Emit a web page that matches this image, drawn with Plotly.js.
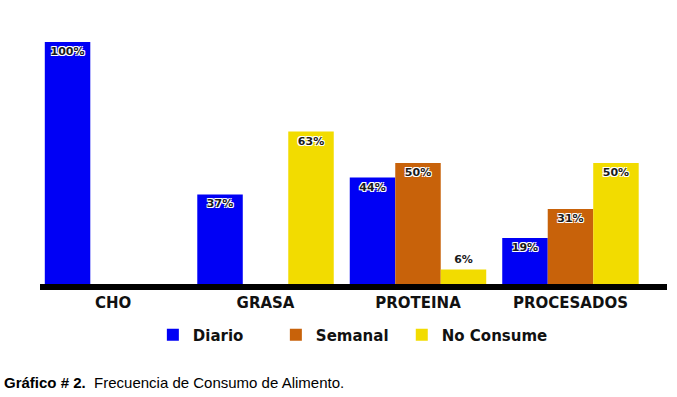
<!DOCTYPE html>
<html><head><meta charset="utf-8">
<script src="https://cdn.plot.ly/plotly-3.0.1.min.js"></script>
<style>html,body{margin:0;padding:0;background:#fff}#chart{width:677px;height:397px}</style>
</head><body><div id="chart"></div>
<script>
const categories = ["CHO", "GRASA", "PROTEINA", "PROCESADOS"];
const diario = [100, 37, 44, 19];
const semanal = [null, null, 50, 31];
const noConsume = [null, 63, 6, 50];
const seriesNames = ["Diario", "Semanal", "No Consume"];
const colors = ["#0000f5", "#c8620a", "#f2dc00"];

const shadow = "1px 1px 0 #fff, -1px -1px 0 #fff, 1px -1px 0 #fff, -1px 1px 0 #fff";
const legendIds = ["legend", "legend", "legend2"];
function mk(vals, i) {
  return {
    type: "bar", name: seriesNames[i], x: categories, y: vals,
    marker: {color: colors[i]}, legend: legendIds[i],
    text: vals.map(v => v == null ? "" : v + "%"),
    textposition: "auto", insidetextanchor: "end", constraintext: "none",
    textfont: {family: "DejaVu Sans", size: 11, weight: 700, color: "#1a1a1a", shadow: shadow},
    hoverinfo: "skip", cliponaxis: false
  };
}
const data = [mk(diario, 0), mk(semanal, 1), mk(noConsume, 2)];
const legFont = {family: "DejaVu Sans, sans-serif", size: 15, weight: 700, color: "#111"};
const layout = {
  width: 677, height: 397,
  margin: {l: 40, r: 10, t: 42, b: 113},
  paper_bgcolor: "#fff", plot_bgcolor: "#fff",
  barmode: "group", bargap: 0.105, bargroupgap: 0,
  xaxis: {type: "category", range: [-0.479, 3.633], showline: true, linecolor: "#000", linewidth: 6,
          showgrid: false, ticks: "", zeroline: false,
          tickfont: {family: "DejaVu Sans, sans-serif", size: 15, weight: 700, color: "#111"}},
  yaxis: {range: [0, 100], visible: false, showgrid: false, zeroline: false},
  showlegend: true,
  legend: {orientation: "h", x: 0.18, xanchor: "left", yref: "container", y: 0.156, yanchor: "middle",
           entrywidth: 78, traceorder: "normal", font: legFont},
  legend2: {orientation: "h", x: 0.577, xanchor: "left", yref: "container", y: 0.156, yanchor: "middle",
           font: legFont},
  annotations: [{
    xref: "paper", yref: "paper", x: -0.061, y: -0.409, xanchor: "left", yanchor: "middle",
    showarrow: false, align: "left",
    text: "<b>Gráfico # 2.</b>  Frecuencia de Consumo de Alimento.",
    font: {family: "Liberation Sans Narrow, Liberation Sans, sans-serif", size: 15, color: "#000"}
  }]
};
Plotly.newPlot("chart", data, layout, {displayModeBar: false, staticPlot: true});
</script></body></html>
